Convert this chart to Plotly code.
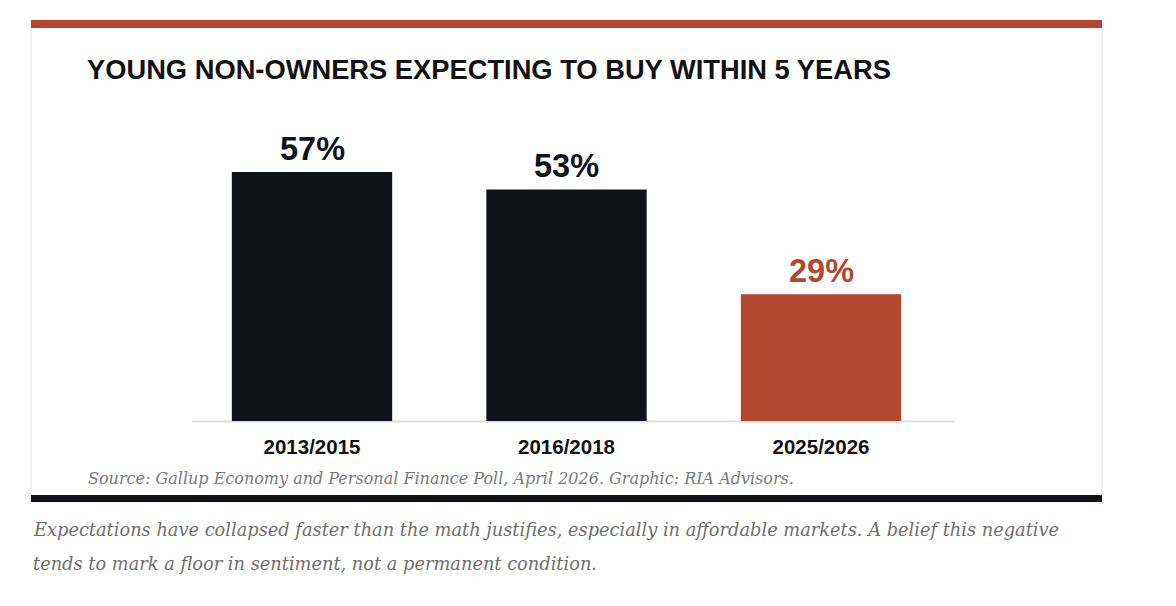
import plotly.graph_objects as go

W, H = 1176, 606

categories = ["2013/2015", "2016/2018", "2025/2026"]
values = [57, 53, 29]
value_labels = ["57%", "53%", "29%"]
bar_colors = ["#10121a", "#10121a", "#b3472f"]

title_text = "YOUNG NON-OWNERS EXPECTING TO BUY WITHIN 5 YEARS"
source_text = "Source: Gallup Economy and Personal Finance Poll, April 2026. Graphic: RIA Advisors."
caption_lines = [
    "Expectations have collapsed faster than the math justifies, especially in affordable markets. A belief this negative",
    "tends to mark a floor in sentiment, not a permanent condition.",
]


def px(x):
    return x / W


def py(y):
    return 1 - y / H


fig = go.Figure()
fig.add_trace(go.Bar(
    x=categories, y=values,
    marker=dict(color=bar_colors, line=dict(width=0)),
    width=0.63,
    hoverinfo="skip",
))

# value labels
for c, v, t, col in zip(categories, values, value_labels, bar_colors):
    fig.add_annotation(x=c, y=v, xref="x", yref="y", text=f"<b>{t}</b>",
                       showarrow=False, yanchor="bottom", yshift=3,
                       font=dict(family="Liberation Sans, Arial", size=32.5, color=col))

shapes = []
# card background + border
shapes.append(dict(type="rect", xref="paper", yref="paper", x0=px(31), x1=px(1102), y0=py(502), y1=py(20),
                   fillcolor="white", line=dict(color="#e3e3e3", width=1), layer="below"))
# top red bar
shapes.append(dict(type="rect", xref="paper", yref="paper", x0=px(31), x1=px(1102), y0=py(28), y1=py(20),
                   fillcolor="#b3472f", line=dict(width=0), layer="above"))
# bottom dark bar
shapes.append(dict(type="rect", xref="paper", yref="paper", x0=px(31), x1=px(1102), y0=py(502), y1=py(495),
                   fillcolor="#111318", line=dict(width=0), layer="above"))
# baseline
shapes.append(dict(type="line", xref="paper", yref="paper", x0=px(192), x1=px(955), y0=py(421.5), y1=py(421.5),
                   line=dict(color="#dedede", width=2), layer="below"))
fig.update_layout(shapes=shapes)

fig.add_annotation(x=px(85), y=py(70), xref="paper", yref="paper", xanchor="left", yanchor="middle",
                   text=f"<b>{title_text}</b>", showarrow=False,
                   font=dict(family="Liberation Sans, Arial", size=27.3, color="#111111"))
fig.add_annotation(x=px(86), y=py(478), xref="paper", yref="paper", xanchor="left", yanchor="middle",
                   text=f"<i>{source_text}</i>", showarrow=False,
                   font=dict(family="DejaVu Serif", size=16, color="#7a7a7a"))
for i, line in enumerate(caption_lines):
    fig.add_annotation(x=px(31), y=py(529 + 34 * i), xref="paper", yref="paper", xanchor="left", yanchor="middle",
                       text=f"<i>{line}</i>", showarrow=False,
                       font=dict(family="DejaVu Serif", size=17.8, color="#6e6e6e"))

y_top = 60
band = 254.5
fig.update_layout(
    width=W, height=H,
    margin=dict(l=0, r=0, t=0, b=0),
    paper_bgcolor="white", plot_bgcolor="rgba(0,0,0,0)",
    showlegend=False,
    xaxis=dict(domain=[px(312 - band / 2), px(821 + band / 2)], showline=False,
               showgrid=False, zeroline=False, ticks="", ticklabelstandoff=11,
               tickfont=dict(family="Liberation Sans, Arial", size=20.5, color="#111111"),
               tickvals=categories, ticktext=[f"<b>{c}</b>" for c in categories]),
    yaxis=dict(domain=[py(421), py(421 - y_top * 4.37)], range=[0, y_top], visible=False, showgrid=False),
)

fig.write_html("out.html")
